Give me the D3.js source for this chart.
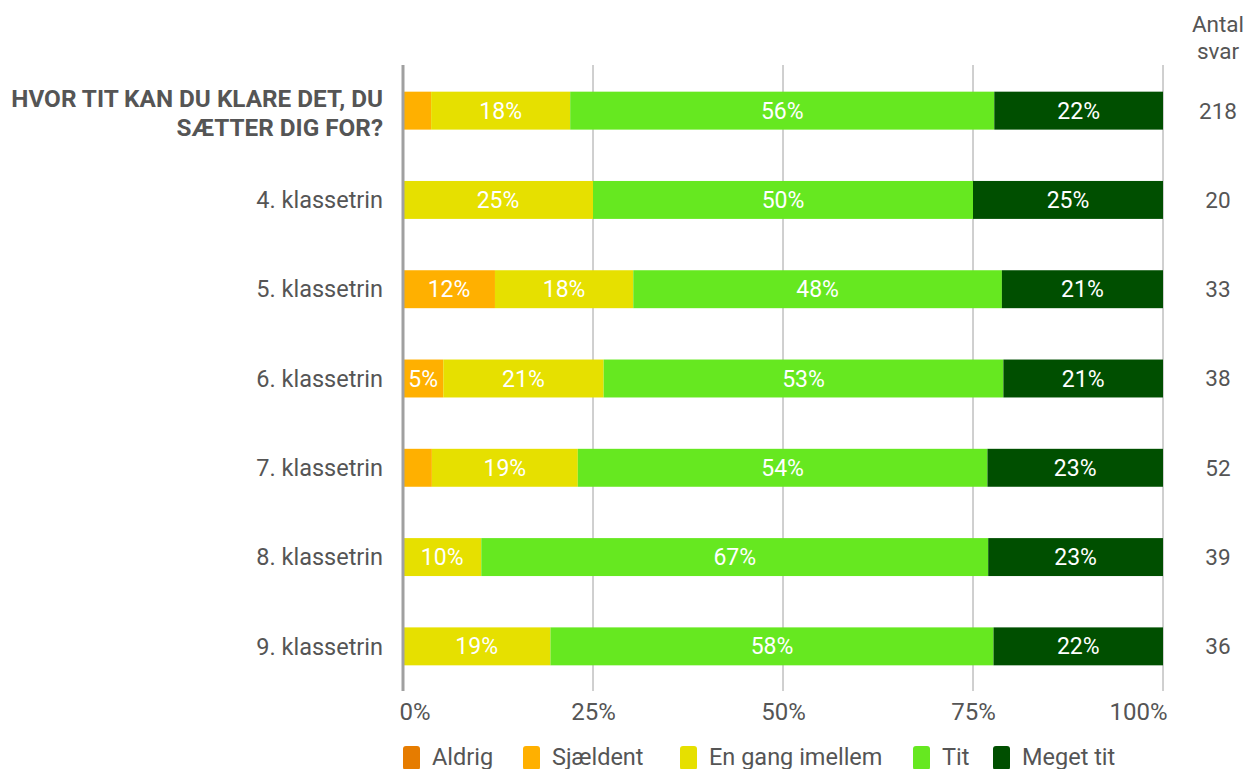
<!DOCTYPE html>
<html><head><meta charset="utf-8">
<script src="https://cdn.jsdelivr.net/npm/d3@7"></script>
<style>body{margin:0;background:#fff}svg{display:block;font-family:Roboto,"Noto Sans",sans-serif}</style>
</head><body><svg id="c" width="1250" height="769"></svg>
<script>
const categories = ["HVOR TIT KAN DU KLARE DET, DU SÆTTER DIG FOR?","4. klassetrin","5. klassetrin","6. klassetrin","7. klassetrin","8. klassetrin","9. klassetrin"];
const seriesNames = ["Aldrig","Sjældent","En gang imellem","Tit","Meget tit"];
const colors = ["#e67c00","#ffb000","#e6e000","#66e820","#004f00"];
const aldrig   = [0,0,0,0,0,0,0];
const sjaeldent= [3.7,0,12.1,5.3,3.8,0,0];
const engang   = [18.3,25,18.2,21.1,19.2,10.3,19.4];
const tit      = [55.8,50,48.5,52.6,53.9,66.7,58.3];
const megetTit = [22.2,25,21.2,21.0,23.1,23.0,22.3];
const labels   = [["","","18%","56%","22%"],["","","25%","50%","25%"],["","12%","18%","48%","21%"],["","5%","21%","53%","21%"],["","","19%","54%","23%"],["","","10%","67%","23%"],["","","19%","58%","22%"]];
const antalSvar = [218,20,33,38,52,39,36];
const ticks = [0,25,50,75,100];
const tickLabels = ["0%","25%","50%","75%","100%"];

const FS = 23.5;
const series = [aldrig,sjaeldent,engang,tit,megetTit];
const svg = d3.select("#c");
const x = d3.scaleLinear().domain([0,100]).range([403,1163]);
const y = d3.scaleBand().domain(categories).range([66,691]).paddingInner(0.575).paddingOuter(0.2875);

svg.append("g").selectAll("line").data(ticks.slice(1)).join("line")
  .attr("x1",d=>x(d)).attr("x2",d=>x(d)).attr("y1",65).attr("y2",691)
  .attr("stroke","#a0a0a0").attr("stroke-width",1);

const stacked = categories.map((c,i)=>{let acc=0;return series.map((s,k)=>{const v={cat:c,i,k,x0:acc,x1:acc+s[i],lab:labels[i][k]};acc+=s[i];return v;});}).flat().filter(d=>d.x1>d.x0);
const g = svg.append("g");
g.selectAll("rect").data(stacked).join("rect")
  .attr("x",d=>x(d.x0)).attr("width",d=>x(d.x1)-x(d.x0))
  .attr("y",d=>y(d.cat)).attr("height",y.bandwidth())
  .attr("fill",d=>colors[d.k]);
g.selectAll("text").data(stacked.filter(d=>d.lab)).join("text")
  .attr("x",d=>(x(d.x0)+x(d.x1))/2).attr("y",d=>y(d.cat)+y.bandwidth()/2)
  .attr("dy","0.35em").attr("text-anchor","middle").attr("fill","#fff")
  .attr("font-size",23).text(d=>d.lab);

svg.append("line").attr("x1",x(0)).attr("x2",x(0)).attr("y1",65).attr("y2",691)
  .attr("stroke","#a0a0a0").attr("stroke-width",3);

const xa = svg.append("g").attr("transform","translate(0,717)").call(d3.axisBottom(x).tickValues(ticks).tickFormat((d,i)=>tickLabels[i]).tickSize(0));
xa.select(".domain").remove();
xa.selectAll("text").attr("font-size",24).attr("fill","#555").attr("font-family","Roboto").attr("dy","0")
  .attr("text-anchor",(d,i)=>i===0?"start":(i===ticks.length-1?"end":"middle"))
  .attr("x",(d,i)=>i===0?-4:(i===ticks.length-1?4:0));

const yl = svg.append("g");
categories.forEach((c,i)=>{
  const cy = y(c)+y.bandwidth()/2;
  if(i===0){
    const t = yl.append("text").attr("text-anchor","end").attr("font-size",24.3).attr("font-weight","bold").attr("fill","#555");
    t.append("tspan").attr("x",383).attr("y",cy-12).attr("dy","0.35em").text("HVOR TIT KAN DU KLARE DET, DU");
    t.append("tspan").attr("x",383).attr("y",cy+17).attr("dy","0.35em").text("SÆTTER DIG FOR?");
  } else {
    yl.append("text").attr("x",383).attr("y",cy).attr("dy","0.35em").attr("text-anchor","end")
      .attr("font-size",FS).attr("fill","#555").text(c);
  }
});

svg.append("text").attr("x",1218).attr("y",24).attr("dy","0.35em").attr("text-anchor","middle").attr("font-size",FS-1).attr("fill","#555").text("Antal");
svg.append("text").attr("x",1218).attr("y",51).attr("dy","0.35em").attr("text-anchor","middle").attr("font-size",FS-1).attr("fill","#555").text("svar");
svg.append("g").selectAll("text").data(antalSvar).join("text")
  .attr("x",1218).attr("y",(d,i)=>y(categories[i])+y.bandwidth()/2).attr("dy","0.35em")
  .attr("text-anchor","middle").attr("font-size",FS-1).attr("fill","#555").text(d=>d);

const legX = [403,523,680,913,993];
const lg = svg.append("g").selectAll("g").data(seriesNames).join("g")
  .attr("transform",(d,i)=>`translate(${legX[i]},746)`);
lg.append("rect").attr("width",17).attr("height",24).attr("rx",3).attr("fill",(d,i)=>colors[i]);
lg.append("text").attr("x",29).attr("y",19).attr("font-size",FS).attr("fill","#555").text(d=>d);
</script></body></html>
